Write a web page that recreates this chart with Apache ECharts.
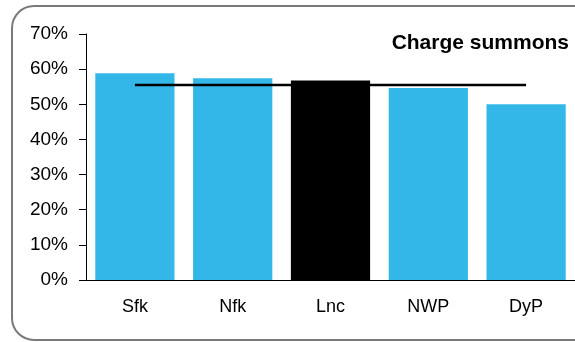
<!DOCTYPE html>
<html>
<head>
<meta charset="utf-8">
<script src="https://cdn.jsdelivr.net/npm/echarts@6/dist/echarts.min.js"></script>
<style>
  html, body { margin: 0; padding: 0; background: #fff; }
  #chart { width: 575px; height: 342px; }
</style>
</head>
<body>
<div id="chart"></div>
<script>
  const categories = ["Sfk", "Nfk", "Lnc", "NWP", "DyP"];
  const shares = [58.8, 57.4, 56.8, 54.6, 50.0];
  const average = [55.5, 55.5, 55.5, 55.5, 55.5];
  const highlight = "Lnc";

  const font = "'Liberation Sans', Arial, sans-serif";

  const chart = echarts.init(document.getElementById("chart"));
  chart.setOption({
    animation: false,
    title: {
      text: "Charge summons",
      right: 6,
      top: 33,
      padding: 0,
      textStyle: { fontFamily: font, fontSize: 21, fontWeight: "bold", color: "#000" }
    },
    graphic: [
      {
        type: "rect",
        shape: { x: 12, y: 6, width: 592, height: 334, r: 22 },
        style: { fill: "none", stroke: "#7a7a7a", lineWidth: 2 },
        z: -1
      }
    ],
    grid: { left: 86, right: 0, top: 34, bottom: 62 },
    xAxis: {
      type: "category",
      data: categories,
      axisTick: { show: false },
      axisLine: { lineStyle: { color: "#000", width: 1 } },
      axisLabel: { margin: 18, fontFamily: font, fontSize: 18, color: "#000" }
    },
    yAxis: {
      type: "value",
      min: 0,
      max: 70,
      interval: 10,
      splitLine: { show: false },
      axisLine: { show: true, lineStyle: { color: "#000", width: 1 } },
      axisTick: { show: true, length: 7, lineStyle: { color: "#000" } },
      axisLabel: { margin: 18, formatter: "{value}%", fontFamily: font, fontSize: 19, color: "#000" }
    },
    series: [
      {
        type: "bar",
        barCategoryGap: "19%",
        data: shares.map((v, i) => ({
          value: v,
          itemStyle: { color: categories[i] === highlight ? "#000000" : "#33b7e8" }
        }))
      },
      {
        type: "line",
        data: average,
        symbol: "none",
        z: 5,
        lineStyle: { color: "#000", width: 2.5 }
      }
    ]
  });
</script>
</body>
</html>
